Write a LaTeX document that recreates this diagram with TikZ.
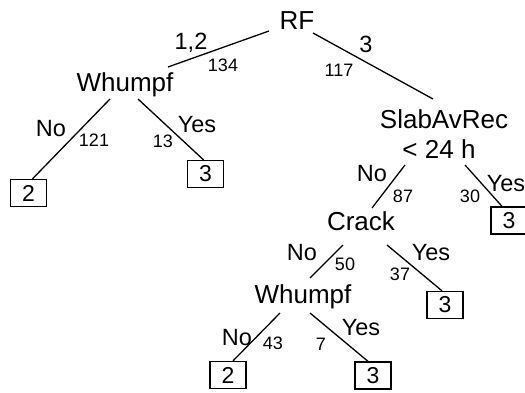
\documentclass[tikz,border=0pt]{standalone}
\usepackage{fontspec}
\setmainfont{Liberation Sans}
\usetikzlibrary{calc}
\begin{document}
\begin{tikzpicture}[x=1pt,y=-1pt,
  split/.style={inner sep=0pt,anchor=base,font=\fontsize{26}{30}\selectfont},
  branch/.style={inner sep=0pt,anchor=base,font=\fontsize{23.5}{26}\selectfont},
  count/.style={inner sep=0pt,anchor=base,font=\fontsize{18}{21}\selectfont},
  leaf/.style={draw,line width=1.3pt,inner sep=0pt,minimum width=36pt,minimum height=27pt,font=\fontsize{23}{26}\selectfont},
  edge/.style={line width=1.3pt}]
\useasboundingbox (0,0) rectangle (525,393);
% split nodes
\node[split] (rf) at (297,30) {RF};
\node[split] (wh1) at (125,92) {Whumpf};
\node[split,anchor=center,align=center] (slab) at (444,134) {SlabAvRec\\< 24 h\hspace*{10pt}};
\node[split] (crack) at (361,230) {Crack};
\node[split] (wh2) at (303,303) {Whumpf};
% leaves
\node[leaf] (b1) at (28.5,193) {2};
\node[leaf] (b2) at (205.5,174) {3};
\node[leaf] (b3) at (509,220.5) {3};
\node[leaf] (b4) at (445,305) {3};
\node[leaf] (b5) at (228,375) {2};
\node[leaf] (b6) at (373,375.5) {3};
% edges
\draw[edge] ($(rf.base)+(-28,1)$) -- ($(wh1.base)+(43,-25)$);
\draw[edge] ($(rf.base)+(16,3)$) -- ($(slab)+(-11,-35)$);
\draw[edge] ($(wh1.base)+(-15,7)$) -- ($(b1.north)+(4,0)$);
\draw[edge] ($(wh1.base)+(13,7)$) -- ($(b2.north)+(-2,0)$);
\draw[edge] ($(slab)+(-39,31)$) -- ($(crack.base)+(11,-22)$);
\draw[edge] ($(slab)+(21,31)$) -- ($(b3.north)+(-7,0)$);
\draw[edge] ($(crack.base)+(-18,15)$) -- ($(wh2.base)+(7,-25)$);
\draw[edge] ($(crack.base)+(26,15)$) -- ($(b4.north)+(-3,0)$);
\draw[edge] ($(wh2.base)+(-23,10)$) -- ($(b5.north)+(5,0)$);
\draw[edge] ($(wh2.base)+(7,10)$) -- ($(b6.north)+(-5,0)$);
% branch labels
\node[branch] (l12) at (191,50) {1,2};
\node[count] (n134) at (223,72) {134};
\node[branch] (l3) at (366,53) {3};
\node[count] (n117) at (339,77) {117};
\node[branch] (lno1) at (51,137) {No};
\node[count] (n121) at (94,147) {121};
\node[branch] (lyes1) at (197,133) {Yes};
\node[count] (n13) at (163,148) {13};
\node[branch] (lno2) at (372,182) {No};
\node[count] (n87) at (403,202) {87};
\node[branch] (lyes2) at (506,192) {Yes};
\node[count] (n30) at (470,203) {30};
\node[branch] (lno3) at (302,260) {No};
\node[count] (n50) at (345,270) {50};
\node[branch] (lyes3) at (431,260) {Yes};
\node[count] (n37) at (400,280) {37};
\node[branch] (lno4) at (237,345) {No};
\node[count] (n43) at (273,349) {43};
\node[branch] (lyes4) at (361,335) {Yes};
\node[count] (n7) at (321,350) {7};
\end{tikzpicture}
\end{document}
